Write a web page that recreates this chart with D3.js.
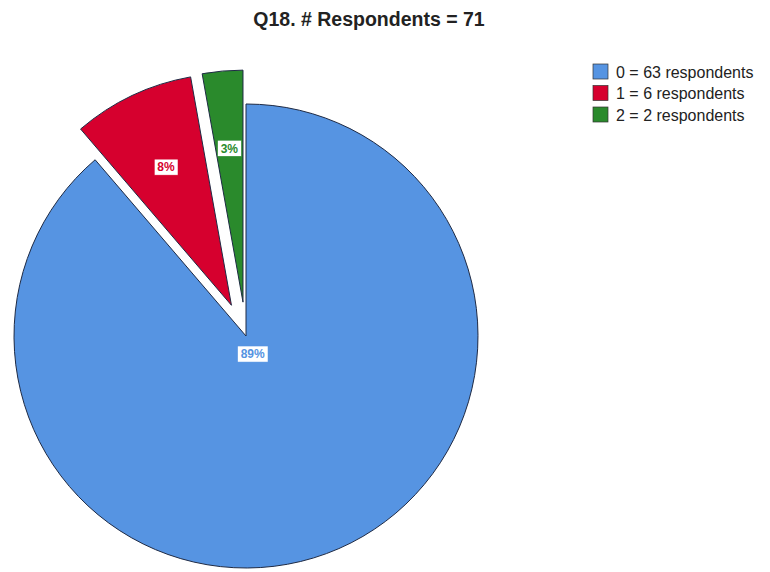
<!DOCTYPE html>
<html>
<head>
<meta charset="utf-8">
<style>
    body { margin: 0; background: #fff; }
    text { font-family: Arial, "Liberation Sans", sans-serif; }
</style>
</head>
<body>
<script src="https://d3js.org/d3.v7.min.js"></script>
<script>
    var categories = ["0", "1", "2"];
    var counts = [63, 6, 2];
    var pctLabels = ["89%", "8%", "3%"];
    var legendLabels = ["0 = 63 respondents", "1 = 6 respondents", "2 = 2 respondents"];
    var title = "Q18. # Respondents = 71";

    var width = 770, height = 572;
    var cx = 246, cy = 336, radius = 232, explode = 34;
    var exploded = [false, true, true];

    var color = d3.scaleOrdinal()
        .domain(categories)
        .range(["#5694e2", "#d6002e", "#2a8a2c"]);

    var svg = d3.select("body").append("svg")
        .attr("width", width)
        .attr("height", height);

    svg.append("text")
        .attr("x", 369)
        .attr("y", 26)
        .attr("text-anchor", "middle")
        .style("font-size", "19.5px")
        .style("font-weight", "bold")
        .attr("fill", "#222")
        .text(title);

    var data = categories.map(function (c, i) {
        return { cat: c, count: counts[i], pct: pctLabels[i], explode: exploded[i] };
    });

    var pie = d3.pie().sort(null).value(function (d) { return d.count; });
    var arc = d3.arc().innerRadius(0).outerRadius(radius);
    var arcs = pie(data);

    // offset of each slice along its bisector
    arcs.forEach(function (a) {
        var mid = (a.startAngle + a.endAngle) / 2;
        var d = a.data.explode ? explode : 0;
        a.ox = Math.sin(mid) * d;
        a.oy = -Math.cos(mid) * d;
        // label at centroid of the sector
        var half = (a.endAngle - a.startAngle) / 2;
        var rc = 2 * radius * Math.sin(half) / (3 * half);
        a.lx = a.ox + Math.sin(mid) * rc;
        a.ly = a.oy - Math.cos(mid) * rc;
    });

    var g = svg.append("g").attr("transform", "translate(" + cx + "," + cy + ")");

    g.selectAll("path.slice")
        .data(arcs)
        .enter().append("path")
        .attr("class", "slice")
        .attr("transform", function (d) { return "translate(" + d.ox + "," + d.oy + ")"; })
        .attr("d", arc)
        .attr("fill", function (d) { return color(d.data.cat); })
        .attr("stroke", "#1e2a44")
        .attr("stroke-width", 1)
        .attr("stroke-linejoin", "round");

    var lbl = g.selectAll("g.lbl")
        .data(arcs)
        .enter().append("g")
        .attr("class", "lbl")
        .attr("transform", function (d) { return "translate(" + d.lx + "," + d.ly + ")"; });

    lbl.append("rect")
        .attr("fill", "#fff")
        .attr("stroke", function (d) { return color(d.data.cat); })
        .attr("stroke-width", 0.5);

    lbl.append("text")
        .attr("text-anchor", "middle")
        .attr("dy", "0.36em")
        .style("font-size", "12px")
        .style("font-weight", "bold")
        .attr("fill", function (d) { return color(d.data.cat); })
        .text(function (d) { return d.data.pct; });

    lbl.each(function () {
        var t = d3.select(this).select("text").node().getBBox();
        d3.select(this).select("rect")
            .attr("x", t.x - 3)
            .attr("y", -8)
            .attr("width", t.width + 6)
            .attr("height", 16);
    });

    var legend = svg.append("g").attr("transform", "translate(593,64)");
    var row = legend.selectAll("g")
        .data(categories)
        .enter().append("g")
        .attr("transform", function (d, i) { return "translate(0," + (i * 21.5) + ")"; });

    row.append("rect")
        .attr("width", 15)
        .attr("height", 15)
        .attr("fill", function (d) { return color(d); })
        .attr("stroke", "#333")
        .attr("stroke-width", 0.7);

    row.append("text")
        .attr("x", 23)
        .attr("y", 8)
        .attr("dy", "0.36em")
        .style("font-size", "16px")
        .attr("fill", "#222")
        .text(function (d, i) { return legendLabels[i]; });
</script>
</body>
</html>
